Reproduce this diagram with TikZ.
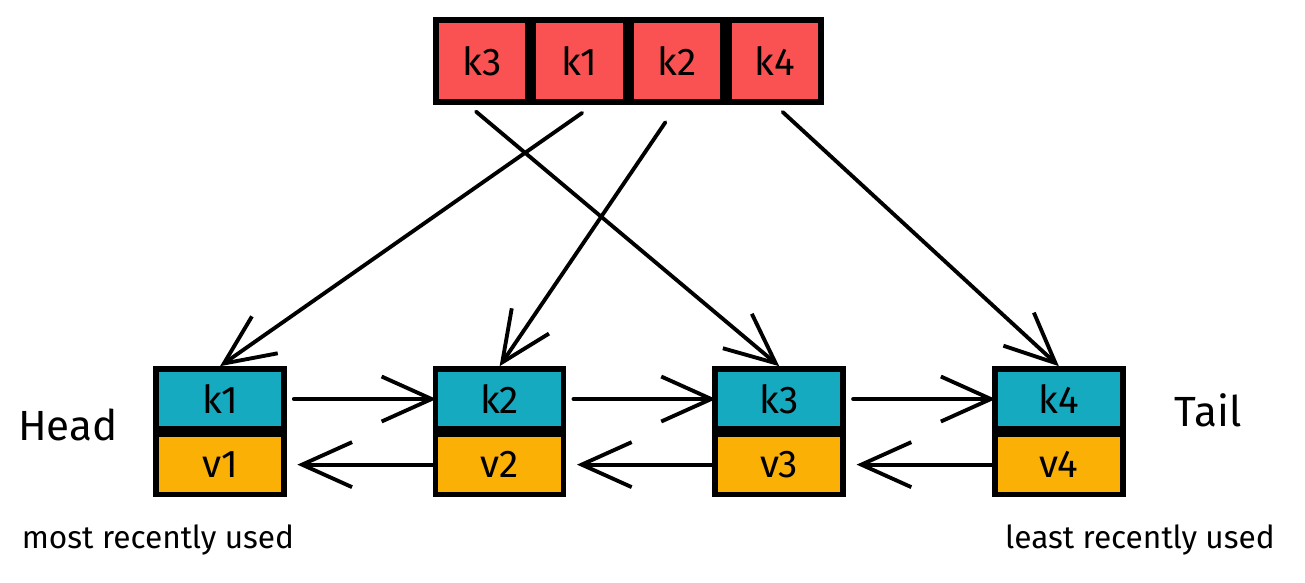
\documentclass[tikz,border=0pt]{standalone}
\usepackage{fontspec}
\setmainfont{Fira Sans}
\usepackage{tikz}
\usetikzlibrary{arrows.meta,positioning}
\definecolor{lrured}{HTML}{FA5252}
\definecolor{lrucyan}{HTML}{15AABF}
\definecolor{lruyellow}{HTML}{FAB005}

\begin{document}
\begin{tikzpicture}[
    node distance=0cm and 1.46cm,
    hashbox/.style={rectangle, draw, line width=1.6pt, fill=lrured,
                 minimum width=0.92cm, minimum height=0.82cm,
                 font=\fontsize{11}{13}\selectfont, inner sep=0pt},
    keybox/.style={rectangle, draw, line width=1.6pt, fill=lrucyan,
                 minimum width=1.28cm, minimum height=0.60cm,
                 font=\fontsize{11}{13}\selectfont, inner sep=0pt},
    valbox/.style={keybox, fill=lruyellow},
    lbl/.style={font=\fontsize{12}{14}\selectfont},
    note/.style={font=\fontsize{9}{11}\selectfont},
    arr/.style={-{Straight Barb[length=5mm, width=4.5mm]}, line width=1.1pt,
                line cap=round},
]
    \useasboundingbox (0,0) rectangle (13.05,-5.82);

    % hash table
    \node[hashbox] (t3) at (4.82,-0.61) {k3};
    \node[hashbox, right=0cm of t3] (t1) {k1};
    \node[hashbox, right=0cm of t1] (t2) {k2};
    \node[hashbox, right=0cm of t2] (t4) {k4};

    % linked list
    \node[keybox] (k1) at (2.20,-3.99) {k1};
    \node[valbox, below=of k1] (v1) {v1};
    \node[keybox, right=of k1] (k2) {k2};
    \node[valbox, below=of k2] (v2) {v2};
    \node[keybox, right=of k2] (k3) {k3};
    \node[valbox, below=of k3] (v3) {v3};
    \node[keybox, right=of k3] (k4) {k4};
    \node[valbox, below=of k4] (v4) {v4};

    \node[lbl] (head) at (0.68,-4.25) {Head};
    \node[lbl] (tail) at (12.08,-4.10) {Tail};
    \node[note] (mru) at (1.58,-5.40) {most recently used};
    \node[note] (lru) at (11.40,-5.40) {least recently used};

    \draw[arr, shorten <=4pt] ([xshift=4pt]t1.south) -- (k1.north);
    \draw[arr, shorten <=6pt] (t2.south) -- (k2.north);
    \draw[arr, shorten <=3pt] ([xshift=-4pt]t3.south) -- (k3.north);
    \draw[arr, shorten <=3pt] (t4.south) -- (k4.north);

    \draw[arr, shorten <=2pt, shorten >=-1pt] (k1) -- (k2);
    \draw[arr, shorten <=2pt, shorten >=-1pt] (k2) -- (k3);
    \draw[arr, shorten <=2pt, shorten >=-1pt] (k3) -- (k4);
    \draw[arr, shorten <=0pt, shorten >=3pt] (v2) -- (v1);
    \draw[arr, shorten <=0pt, shorten >=3pt] (v3) -- (v2);
    \draw[arr, shorten <=0pt, shorten >=3pt] (v4) -- (v3);
\end{tikzpicture}
\end{document}
